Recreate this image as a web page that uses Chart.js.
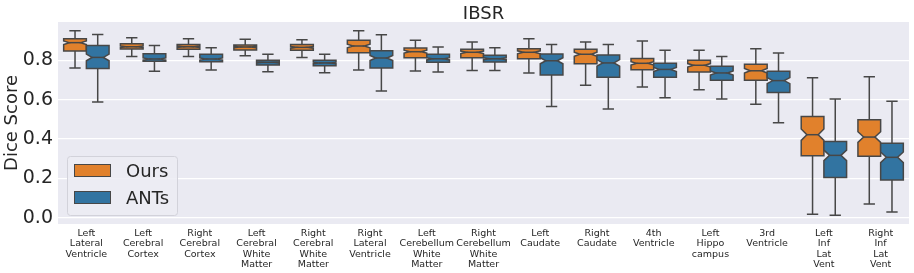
<!DOCTYPE html>
<html lang="en">
<head>
<meta charset="UTF-8">
<title>IBSR Dice Scores</title>
<script src="https://cdn.jsdelivr.net/npm/chart.js@4/dist/chart.umd.min.js"></script>
<style>
  body { margin: 0; background: #fff; }
</style>
</head>
<body>
<canvas id="chart" width="914" height="273"></canvas>
<script>
  // structures (multi-line tick labels)
  const categories = [
    ["Left", "Lateral", "Ventricle"],
    ["Left", "Cerebral", "Cortex"],
    ["Right", "Cerebral", "Cortex"],
    ["Left", "Cerebral", "White", "Matter"],
    ["Right", "Cerebral", "White", "Matter"],
    ["Right", "Lateral", "Ventricle"],
    ["Left", "Cerebellum", "White", "Matter"],
    ["Right", "Cerebellum", "White", "Matter"],
    ["Left", "Caudate"],
    ["Right", "Caudate"],
    ["4th", "Ventricle"],
    ["Left", "Hippo", "campus"],
    ["3rd", "Ventricle"],
    ["Left", "Inf", "Lat", "Vent"],
    ["Right", "Inf", "Lat", "Vent"]
  ];

  // Ours: whisker low, Q1, median, Q3, whisker high
  const oursLow  = [0.761, 0.819, 0.820, 0.824, 0.815, 0.751, 0.746, 0.749, 0.736, 0.673, 0.664, 0.651, 0.577, 0.017, 0.070];
  const oursQ1   = [0.847, 0.858, 0.856, 0.853, 0.851, 0.839, 0.813, 0.813, 0.808, 0.783, 0.752, 0.741, 0.699, 0.315, 0.312];
  const oursMed  = [0.890, 0.869, 0.869, 0.868, 0.866, 0.873, 0.844, 0.841, 0.841, 0.831, 0.785, 0.775, 0.747, 0.422, 0.410];
  const oursQ3   = [0.910, 0.885, 0.881, 0.878, 0.880, 0.902, 0.863, 0.856, 0.859, 0.856, 0.810, 0.800, 0.780, 0.514, 0.498];
  const oursHigh = [0.951, 0.915, 0.910, 0.907, 0.905, 0.951, 0.902, 0.893, 0.910, 0.893, 0.898, 0.851, 0.859, 0.712, 0.717];

  // ANTs
  const antsLow  = [0.588, 0.744, 0.751, 0.742, 0.737, 0.644, 0.741, 0.749, 0.566, 0.553, 0.610, 0.603, 0.483, 0.012, 0.029];
  const antsQ1   = [0.759, 0.795, 0.793, 0.776, 0.773, 0.761, 0.790, 0.792, 0.725, 0.714, 0.714, 0.699, 0.637, 0.205, 0.192];
  const antsMed  = [0.815, 0.807, 0.807, 0.790, 0.787, 0.812, 0.808, 0.808, 0.798, 0.787, 0.754, 0.736, 0.697, 0.317, 0.307];
  const antsQ3   = [0.876, 0.834, 0.831, 0.800, 0.800, 0.849, 0.831, 0.826, 0.832, 0.827, 0.785, 0.770, 0.744, 0.388, 0.378];
  const antsHigh = [0.932, 0.876, 0.864, 0.831, 0.831, 0.930, 0.868, 0.864, 0.881, 0.880, 0.851, 0.819, 0.837, 0.603, 0.592];

  const yTicks = [0.0, 0.2, 0.4, 0.6, 0.8];
  const sampleCount = 117; // used for notch size, median +- 1.57*IQR/sqrt(n)

  const seriesStats = [
    { low: oursLow, q1: oursQ1, med: oursMed, q3: oursQ3, high: oursHigh },
    { low: antsLow, q1: antsQ1, med: antsMed, q3: antsQ3, high: antsHigh }
  ];
  const fillColors = ["#E1812C", "#3274A1"];
  const edgeColor = "#474747";
  const textColor = "#262626";
  const font = '"DejaVu Sans", sans-serif';

  const boxPlugin = {
    id: "boxes",
    beforeDraw(chart) {
      const a = chart.chartArea, ctx = chart.ctx;
      ctx.save();
      ctx.fillStyle = "#EAEAF2";
      ctx.fillRect(a.left, a.top, a.right - a.left, a.bottom - a.top);
      ctx.restore();
    },
    afterDatasetsDraw(chart) {
      const ctx = chart.ctx, y = chart.scales.y;
      ctx.save();
      ctx.lineWidth = 1.5;
      ctx.strokeStyle = edgeColor;
      seriesStats.forEach((s, i) => {
        const meta = chart.getDatasetMeta(i);
        meta.data.forEach((bar, j) => {
          const cx = bar.x, w = bar.width;
          const left = cx - w / 2, right = cx + w / 2;
          const capL = cx - w / 4, capR = cx + w / 4;
          const yLow = y.getPixelForValue(s.low[j]);
          const yQ1 = y.getPixelForValue(s.q1[j]);
          const yMed = y.getPixelForValue(s.med[j]);
          const yQ3 = y.getPixelForValue(s.q3[j]);
          const yHigh = y.getPixelForValue(s.high[j]);
          const iqr = s.q3[j] - s.q1[j];
          const notch = 1.57 * iqr / Math.sqrt(sampleCount);
          const yNLo = y.getPixelForValue(s.med[j] - notch);
          const yNHi = y.getPixelForValue(s.med[j] + notch);

          // whiskers + caps
          ctx.beginPath();
          ctx.moveTo(cx, yQ1); ctx.lineTo(cx, yLow);
          ctx.moveTo(capL, yLow); ctx.lineTo(capR, yLow);
          ctx.moveTo(cx, yQ3); ctx.lineTo(cx, yHigh);
          ctx.moveTo(capL, yHigh); ctx.lineTo(capR, yHigh);
          ctx.stroke();

          // notched box
          ctx.beginPath();
          ctx.moveTo(left, yQ1);
          ctx.lineTo(right, yQ1);
          ctx.lineTo(right, yNLo);
          ctx.lineTo(capR, yMed);
          ctx.lineTo(right, yNHi);
          ctx.lineTo(right, yQ3);
          ctx.lineTo(left, yQ3);
          ctx.lineTo(left, yNHi);
          ctx.lineTo(capL, yMed);
          ctx.lineTo(left, yNLo);
          ctx.closePath();
          ctx.fillStyle = fillColors[i];
          ctx.fill();
          ctx.stroke();

          // median
          ctx.beginPath();
          ctx.moveTo(capL, yMed); ctx.lineTo(capR, yMed);
          ctx.stroke();
        });
      });
      ctx.restore();
    },
    afterDraw(chart) {
      const ctx = chart.ctx, a = chart.chartArea;
      ctx.save();
      // title
      ctx.fillStyle = textColor;
      ctx.font = "18px " + font;
      ctx.textAlign = "center";
      ctx.textBaseline = "alphabetic";
      ctx.fillText("IBSR", (a.left + a.right) / 2, 18.5);

      // legend (lower left inside axes)
      const lx = a.left + 9, ly = a.bottom - 68;
      ctx.beginPath();
      ctx.roundRect(lx + 0.5, ly + 0.5, 110, 59, 3);
      ctx.fillStyle = "rgba(236,236,243,0.85)";
      ctx.fill();
      ctx.strokeStyle = "#D2D2DA";
      ctx.lineWidth = 1;
      ctx.stroke();
      chart.data.datasets.forEach((ds, i) => {
        const py = ly + 8 + i * 27;
        ctx.fillStyle = fillColors[i];
        ctx.fillRect(lx + 7, py, 37, 13);
        ctx.strokeStyle = edgeColor;
        ctx.lineWidth = 1;
        ctx.strokeRect(lx + 7.5, py + 0.5, 36, 12);
        ctx.fillStyle = textColor;
        ctx.font = "18px " + font;
        ctx.textAlign = "left";
        ctx.fillText(ds.label, lx + 59, py + 13);
      });
      ctx.restore();
    }
  };

  new Chart(document.getElementById("chart"), {
    type: "bar",
    data: {
      labels: categories,
      datasets: [
        { label: "Ours", data: oursQ1.map((v, j) => [v, oursQ3[j]]), backgroundColor: "rgba(0,0,0,0)", borderWidth: 0 },
        { label: "ANTs", data: antsQ1.map((v, j) => [v, antsQ3[j]]), backgroundColor: "rgba(0,0,0,0)", borderWidth: 0 }
      ]
    },
    options: {
      responsive: false,
      animation: false,
      events: [],
      layout: { padding: { top: 22, right: 5, left: 0, bottom: 0 } },
      datasets: { bar: { categoryPercentage: 0.8, barPercentage: 1.0 } },
      plugins: {
        legend: { display: false },
        title: { display: false },
        tooltip: { enabled: false }
      },
      scales: {
        x: {
          grid: { display: false },
          border: { display: false },
          afterFit(scale) { scale.height = 49; },
          ticks: {
            autoSkip: false,
            maxRotation: 0,
            minRotation: 0,
            padding: -4,
            color: textColor,
            font: { family: font, size: 9.5, lineHeight: 1.1 }
          }
        },
        y: {
          min: -0.032,
          max: 0.995,
          afterFit(scale) { scale.width = 58; },
          afterBuildTicks(scale) { scale.ticks = yTicks.map(v => ({ value: v })); },
          grid: { color: "#FFFFFF", lineWidth: 1.2, drawTicks: false },
          border: { display: false },
          title: {
            display: true,
            text: "Dice Score",
            color: textColor,
            font: { family: font, size: 18 },
            padding: { top: 2, bottom: 0 }
          },
          ticks: {
            padding: 5,
            color: textColor,
            font: { family: font, size: 19 },
            callback: v => v.toFixed(1)
          }
        }
      }
    },
    plugins: [boxPlugin]
  });
</script>
</body>
</html>
